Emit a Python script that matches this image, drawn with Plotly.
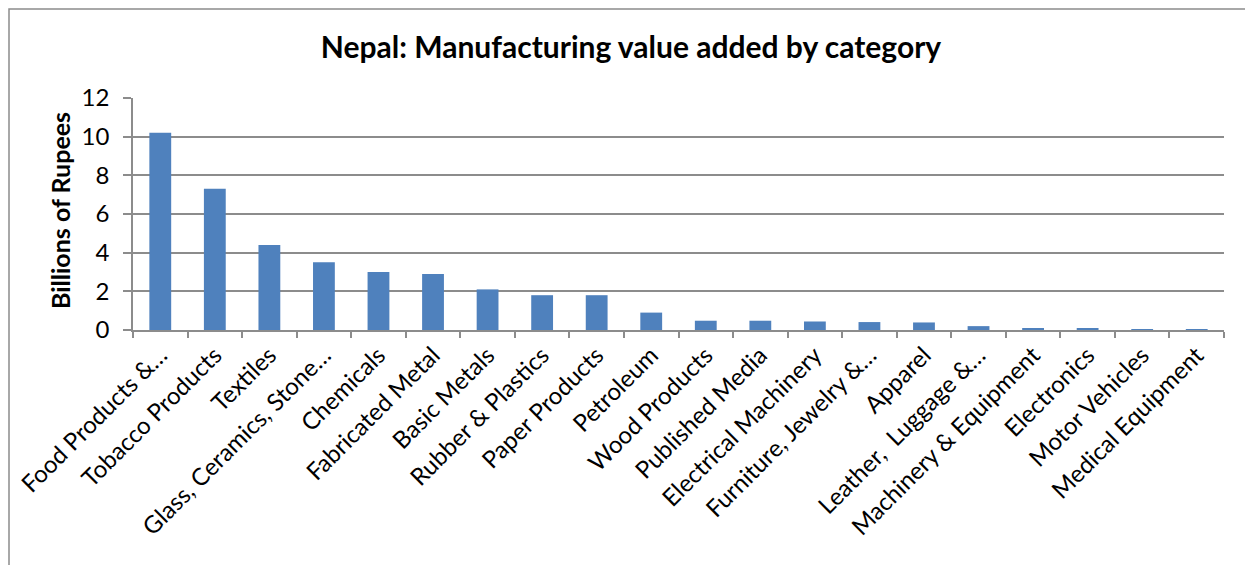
import plotly.graph_objects as go

categories = ["Food Products &…", "Tobacco Products", "Textiles", "Glass, Ceramics, Stone…",
              "Chemicals", "Fabricated Metal", "Basic Metals", "Rubber & Plastics",
              "Paper Products", "Petroleum", "Wood Products", "Published Media",
              "Electrical Machinery", "Furniture, Jewelry &…", "Apparel", "Leather,  Luggage &…",
              "Machinery & Equipment", "Electronics", "Motor Vehicles", "Medical Equipment"]
values = [10.2, 7.3, 4.4, 3.5, 3.0, 2.9, 2.1, 1.8, 1.8, 0.9, 0.48, 0.48, 0.44, 0.41,
          0.39, 0.2, 0.09, 0.07, 0.03, 0.01]
y_ticks = [0, 2, 4, 6, 8, 10, 12]

OFF = 8  # default body margin of the html page
W, H = 1253 - OFF, 565 - OFF
L, R, T, B = 133 - OFF, 29, 98 - OFF, 243 - OFF
pw, ph = W - L - R, H - T - B

FONT = "Lato"
GRID = "#8c8c8c"

fig = go.Figure(go.Bar(x=categories, y=values, marker=dict(color="#4F81BD", line=dict(width=0)),
                       width=0.4))

fig.update_layout(
    width=W, height=H,
    margin=dict(l=L, r=R, t=T, b=B, autoexpand=False),
    paper_bgcolor="white", plot_bgcolor="white",
    showlegend=False,
    font=dict(family=FONT, color="black"),
    title=dict(text="<b>Nepal: Manufacturing value added by category</b>",
               x=(631 - OFF) / W, xanchor="center", xref="container",
               y=1 - (47 - OFF) / H, yanchor="middle", yref="container",
               font=dict(size=30, family=FONT, color="black")),
    xaxis=dict(tickangle=-45, tickfont=dict(size=24, family=FONT, color="black"),
               showline=True, linecolor=GRID, linewidth=1.5,
               ticks="outside", ticklen=6, tickcolor=GRID, tickwidth=1.5,
               tickson="boundaries", showgrid=False, range=[-0.5, 19.5], automargin=False),
    yaxis=dict(range=[0, 12], tickvals=y_ticks, tickfont=dict(size=24, family=FONT, color="black"),
               showline=True, linecolor=GRID, linewidth=1.5,
               ticks="outside", ticklen=8, tickcolor=GRID, tickwidth=1.5,
               ticklabelstandoff=9,
               showgrid=True, gridcolor=GRID, gridwidth=1.5, zeroline=False, automargin=False),
    bargap=0.6,
)

# y-axis title
fig.add_annotation(text="<b>Billions of Rupees</b>", textangle=-90,
                   xref="paper", yref="paper",
                   x=(60 - 133) / pw, y=(322 - 203) / ph,
                   xanchor="center", yanchor="middle", showarrow=False,
                   font=dict(size=25, family=FONT, color="black"))

# outer chart border
fig.add_shape(type="rect", xref="paper", yref="paper",
              x0=(1 - L) / pw, x1=(W + 5 - L) / pw,
              y0=-(B + 10) / ph, y1=(ph + T - 1) / ph,
              line=dict(color="#8c8c8c", width=1.5), fillcolor="rgba(0,0,0,0)", layer="below")

fig.write_html("out.html")
